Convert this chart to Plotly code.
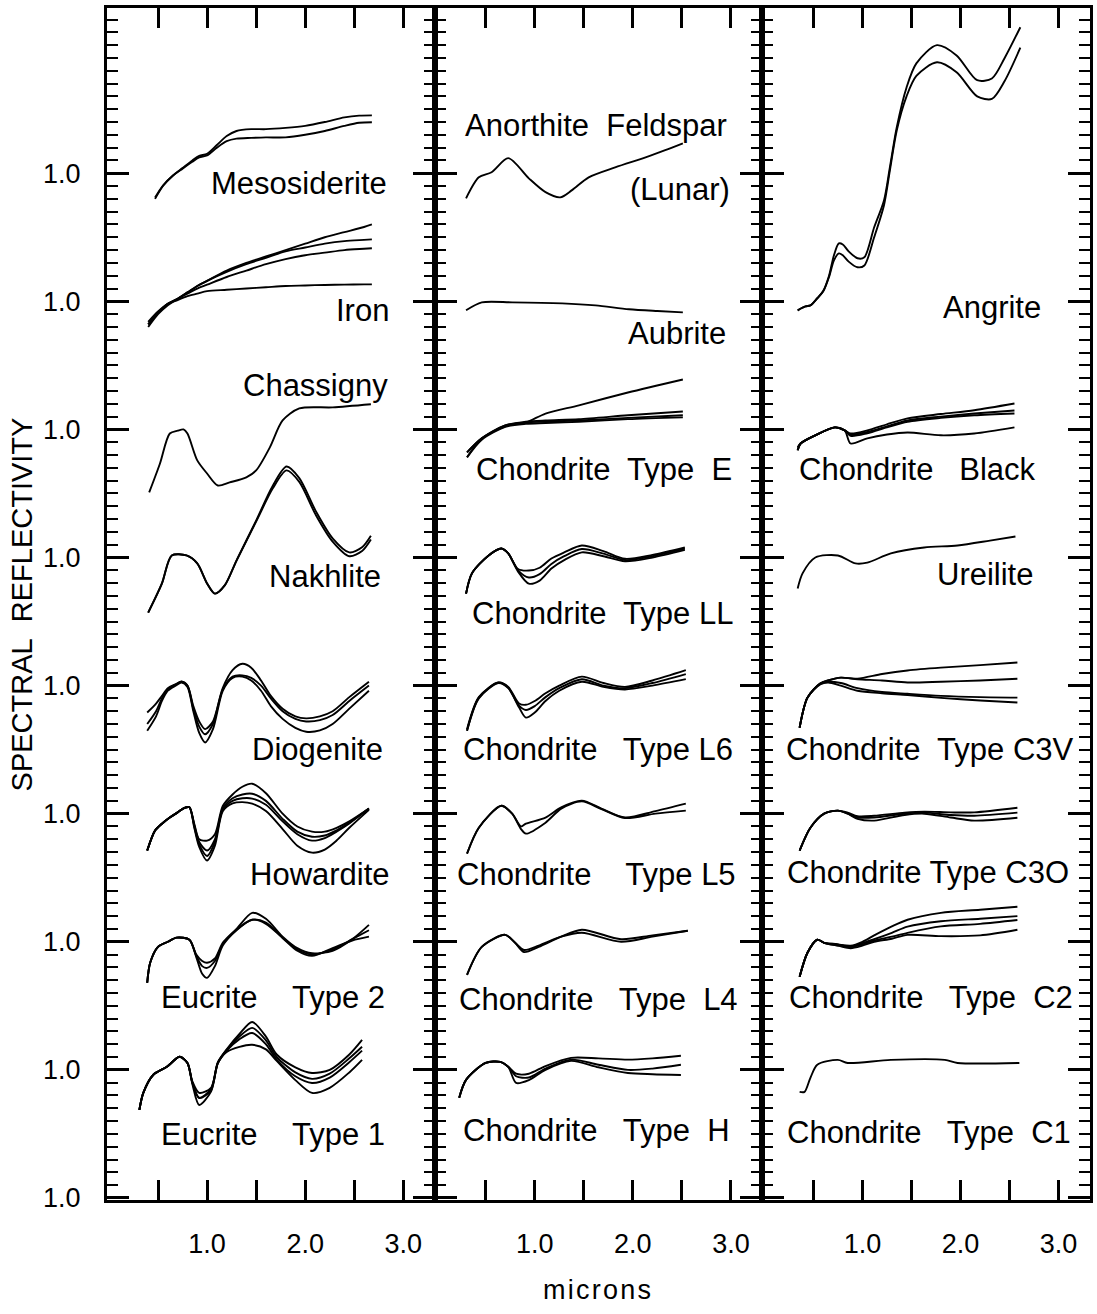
import plotly.graph_objects as go

# ---------------- data (relative reflectance vs wavelength in microns) ----------------
# Panel 1
MESO_WL = [0.47,0.55,0.65,0.75,0.85,0.92,1.00,1.10,1.20,1.30,1.45,1.60,1.80,2.00,2.20,2.40,2.55,2.68]
MESO_A = [0.900,0.950,0.990,1.020,1.050,1.068,1.076,1.110,1.145,1.165,1.172,1.172,1.177,1.185,1.200,1.218,1.225,1.226]
MESO_B = [0.905,0.952,0.990,1.018,1.045,1.062,1.070,1.100,1.125,1.135,1.138,1.140,1.140,1.150,1.165,1.185,1.197,1.199]

IRON_WL = [0.40,0.50,0.60,0.70,0.80,0.90,1.00,1.20,1.40,1.60,1.80,2.00,2.20,2.40,2.60,2.68]
IRON_A = [0.900,0.950,0.985,1.010,1.035,1.060,1.080,1.120,1.150,1.175,1.200,1.225,1.250,1.270,1.290,1.300]
IRON_B = [0.910,0.955,0.990,1.010,1.035,1.060,1.080,1.115,1.145,1.170,1.195,1.210,1.225,1.235,1.240,1.242]
IRON_C = [0.910,0.955,0.990,1.010,1.030,1.050,1.065,1.095,1.120,1.145,1.165,1.180,1.190,1.200,1.205,1.207]
IRON_D = [0.920,0.960,0.990,1.005,1.020,1.030,1.040,1.045,1.050,1.055,1.060,1.062,1.064,1.065,1.066,1.066]

CHAS_WL = [0.41,0.52,0.62,0.70,0.76,0.80,0.90,1.00,1.11,1.23,1.40,1.50,1.64,1.77,1.94,2.28,2.67]
CHAS = [0.754,0.867,0.984,0.995,1.000,0.984,0.879,0.828,0.781,0.793,0.813,0.840,0.930,1.035,1.082,1.086,1.098]

NAKH_WL = [0.40,0.54,0.64,0.79,0.90,1.00,1.08,1.18,1.30,1.50,1.67,1.81,1.94,2.11,2.28,2.45,2.58,2.67]
NAKH_A = [0.785,0.899,1.008,1.008,0.977,0.899,0.859,0.891,0.988,1.144,1.280,1.355,1.310,1.180,1.075,1.020,1.040,1.085]
NAKH_B = [0.785,0.899,1.008,1.008,0.977,0.899,0.859,0.891,0.988,1.140,1.270,1.340,1.295,1.165,1.062,1.005,1.025,1.070]

DIOG_WL = [0.39,0.48,0.54,0.60,0.68,0.74,0.80,0.86,0.92,0.98,1.06,1.16,1.26,1.36,1.45,1.55,1.65,1.77,1.90,2.01,2.15,2.28,2.45,2.65]
DIOG_A = [0.895,0.930,0.960,0.990,1.005,1.016,1.000,0.920,0.860,0.830,0.860,0.990,1.060,1.085,1.070,1.020,0.960,0.910,0.880,0.872,0.880,0.900,0.955,1.015]
DIOG_B = [0.850,0.900,0.950,0.985,1.005,1.015,1.000,0.910,0.840,0.810,0.850,0.985,1.035,1.040,1.030,1.000,0.950,0.900,0.870,0.860,0.865,0.885,0.940,1.000]
DIOG_C = [0.824,0.880,0.940,0.980,1.000,1.012,0.995,0.900,0.815,0.778,0.830,0.980,1.030,1.035,1.020,0.980,0.920,0.870,0.835,0.820,0.825,0.850,0.910,0.980]

HOW_WL = [0.39,0.47,0.54,0.62,0.70,0.77,0.82,0.87,0.92,1.00,1.08,1.16,1.26,1.36,1.46,1.60,1.77,1.92,2.07,2.20,2.32,2.45,2.65]
HOW_A = [0.856,0.934,0.961,0.985,1.005,1.023,1.025,0.960,0.900,0.895,0.920,1.030,1.075,1.105,1.117,1.080,1.000,0.950,0.930,0.930,0.945,0.970,1.020]
HOW_B = [0.856,0.934,0.961,0.985,1.005,1.023,1.025,0.955,0.890,0.856,0.900,1.020,1.060,1.075,1.078,1.050,0.980,0.930,0.910,0.915,0.935,0.965,1.020]
HOW_C = [0.856,0.934,0.961,0.985,1.005,1.023,1.025,0.950,0.880,0.835,0.890,1.015,1.050,1.060,1.059,1.035,0.970,0.920,0.895,0.905,0.930,0.962,1.020]
HOW_D = [0.856,0.934,0.961,0.985,1.005,1.023,1.025,0.945,0.870,0.817,0.875,1.010,1.040,1.045,1.039,1.010,0.940,0.875,0.848,0.860,0.895,0.945,1.015]

EUC2_WL = [0.39,0.42,0.50,0.60,0.69,0.82,0.89,0.95,1.00,1.08,1.16,1.30,1.46,1.60,1.77,1.92,2.07,2.28,2.48,2.65]
EUC2_A = [0.840,0.918,0.980,1.000,1.016,1.008,0.950,0.925,0.918,0.935,0.996,1.050,1.113,1.090,1.020,0.975,0.955,0.965,1.010,1.066]
EUC2_B = [0.840,0.918,0.980,1.000,1.016,1.008,0.945,0.905,0.898,0.925,0.990,1.047,1.086,1.075,1.016,0.970,0.950,0.970,1.010,1.045]
EUC2_C = [0.840,0.918,0.980,1.000,1.016,1.008,0.940,0.875,0.859,0.905,0.985,1.045,1.086,1.070,1.015,0.965,0.945,0.975,1.005,1.020]

EUC1_WL = [0.31,0.35,0.45,0.59,0.72,0.80,0.85,0.92,1.04,1.11,1.20,1.33,1.46,1.60,1.71,1.90,2.07,2.25,2.45,2.58]
EUC1_A = [0.844,0.910,0.980,1.012,1.051,1.027,0.955,0.910,0.930,1.030,1.080,1.140,1.187,1.130,1.060,1.010,0.988,1.000,1.060,1.117]
EUC1_B = [0.844,0.910,0.980,1.012,1.051,1.027,0.950,0.891,0.925,1.027,1.078,1.130,1.164,1.115,1.050,0.990,0.965,0.985,1.045,1.090]
EUC1_C = [0.844,0.910,0.980,1.012,1.051,1.027,0.945,0.863,0.915,1.025,1.075,1.120,1.144,1.100,1.040,0.975,0.949,0.970,1.030,1.075]
EUC1_D = [0.844,0.910,0.980,1.012,1.051,1.027,0.950,0.890,0.920,1.027,1.070,1.090,1.098,1.080,1.035,0.960,0.910,0.930,0.990,1.039]

# Panel 2
ANOR_WL = [0.30,0.43,0.56,0.73,0.94,1.11,1.26,1.38,1.55,1.82,2.13,2.33,2.51]
ANOR = [0.902,0.984,1.004,1.059,0.980,0.926,0.906,0.934,0.984,1.023,1.062,1.090,1.117]

AUB_WL = [0.30,0.46,0.77,1.28,1.62,1.96,2.25,2.51]
AUB = [0.965,0.996,0.996,0.992,0.984,0.969,0.962,0.957]

ENS_WL = [0.31,0.46,0.70,0.91,1.11,1.45,1.95,2.51]
ENS_A = [0.891,0.965,1.016,1.027,1.062,1.094,1.144,1.195]
ENS_B = [0.910,0.965,1.016,1.030,1.035,1.040,1.055,1.070]
ENS_C = [0.910,0.965,1.012,1.027,1.030,1.035,1.045,1.055]
ENS_D = [0.891,0.960,1.010,1.022,1.025,1.030,1.040,1.047]

LL_WL = [0.30,0.36,0.53,0.66,0.73,0.83,0.94,1.05,1.17,1.30,1.48,1.70,1.92,2.20,2.53]
LL_A = [0.859,0.938,1.008,1.035,1.016,0.955,0.949,0.960,0.996,1.020,1.047,1.025,0.995,1.010,1.039]
LL_B = [0.859,0.938,1.008,1.035,1.016,0.950,0.922,0.935,0.975,1.005,1.033,1.015,0.990,1.005,1.035]
LL_C = [0.859,0.938,1.008,1.035,1.016,0.945,0.898,0.910,0.957,0.990,1.020,1.005,0.985,1.000,1.030]

L6_WL = [0.31,0.43,0.63,0.73,0.84,0.91,1.00,1.11,1.25,1.48,1.70,1.92,2.20,2.54]
L6_A = [0.830,0.955,1.012,0.995,0.930,0.925,0.940,0.970,1.000,1.035,1.010,0.995,1.020,1.060]
L6_B = [0.824,0.953,1.012,0.992,0.922,0.905,0.920,0.955,0.990,1.025,1.000,0.990,1.010,1.045]
L6_C = [0.824,0.950,1.010,0.990,0.915,0.875,0.895,0.940,0.980,1.015,0.995,0.985,1.000,1.025]

L5_WL = [0.31,0.43,0.66,0.77,0.86,0.91,1.11,1.27,1.48,1.68,1.92,2.23,2.54]
L5_A = [0.844,0.945,1.031,1.000,0.950,0.961,0.985,1.025,1.051,1.020,0.985,1.010,1.039]
L5_B = [0.844,0.945,1.031,1.000,0.940,0.922,0.965,1.020,1.048,1.018,0.983,1.000,1.012]

L4_WL = [0.31,0.46,0.70,0.80,0.89,1.04,1.27,1.48,1.88,2.20,2.56]
L4_A = [0.871,0.980,1.027,0.996,0.960,0.980,1.020,1.047,1.010,1.025,1.043]
L4_B = [0.871,0.980,1.027,0.996,0.968,0.985,1.020,1.035,1.000,1.020,1.043]

H_WL = [0.23,0.30,0.50,0.65,0.73,0.81,0.94,1.11,1.37,1.65,1.95,2.20,2.49]
H_A = [0.891,0.961,1.027,1.031,1.012,0.985,0.985,1.015,1.047,1.045,1.040,1.045,1.055]
H_B = [0.891,0.961,1.027,1.031,1.012,0.975,0.970,1.005,1.040,1.020,1.000,1.005,1.020]
H_C = [0.891,0.961,1.027,1.031,1.012,0.949,0.960,1.000,1.035,1.010,0.988,0.983,0.980]

# Panel 3
ANG_WL = [0.34,0.42,0.47,0.54,0.60,0.66,0.71,0.76,0.80,0.86,0.95,1.02,1.12,1.22,1.28,1.35,1.45,1.55,1.76,1.96,2.17,2.32,2.45,2.61]
ANG_A = [0.965,0.980,0.984,1.012,1.040,1.100,1.180,1.226,1.222,1.195,1.168,1.172,1.289,1.394,1.523,1.679,1.835,1.929,2.000,1.960,1.863,1.870,1.950,2.070]
ANG_B = [0.965,0.980,0.984,1.012,1.038,1.095,1.160,1.187,1.180,1.155,1.133,1.140,1.250,1.375,1.510,1.667,1.800,1.880,1.933,1.894,1.800,1.790,1.860,1.990]

BLK_WL = [0.34,0.37,0.52,0.72,0.82,0.88,1.05,1.25,1.46,1.80,2.14,2.55]
BLK_A = [0.930,0.945,0.977,1.008,0.996,0.984,0.996,1.020,1.043,1.060,1.075,1.101]
BLK_B = [0.920,0.945,0.977,1.008,0.996,0.980,0.990,1.012,1.035,1.050,1.062,1.074]
BLK_C = [0.920,0.945,0.977,1.008,0.996,0.975,0.985,1.008,1.030,1.045,1.055,1.062]
BLK_D = [0.918,0.945,0.977,1.008,0.996,0.945,0.965,0.980,0.988,0.977,0.984,1.008]

UREI_WL = [0.34,0.39,0.52,0.75,0.93,1.05,1.29,1.63,1.97,2.30,2.56]
UREI = [0.879,0.938,1.000,1.008,0.977,0.980,1.016,1.039,1.047,1.066,1.082]

C3V_WL = [0.36,0.44,0.57,0.65,0.78,0.95,1.20,1.46,1.80,2.20,2.58]
C3V_A = [0.836,0.953,1.008,1.020,1.031,1.027,1.045,1.059,1.070,1.080,1.090]
C3V_B = [0.836,0.953,1.008,1.020,1.031,1.025,1.020,1.012,1.015,1.020,1.027]
C3V_C = [0.836,0.953,1.008,1.015,1.010,0.990,0.975,0.968,0.960,0.955,0.953]
C3V_D = [0.836,0.953,1.005,1.012,1.000,0.980,0.970,0.963,0.952,0.942,0.934]

C3O_WL = [0.36,0.47,0.61,0.75,0.85,0.95,1.12,1.43,1.63,1.90,2.14,2.58]
C3O_A = [0.856,0.945,1.000,1.012,1.004,0.990,0.992,1.004,1.008,1.005,1.005,1.023]
C3O_B = [0.856,0.945,1.000,1.012,1.000,0.985,0.985,1.000,1.004,0.995,0.992,1.004]
C3O_C = [0.856,0.945,1.000,1.012,1.000,0.980,0.973,0.995,1.000,0.985,0.973,0.984]

C2_WL = [0.36,0.44,0.54,0.61,0.75,0.88,1.00,1.12,1.30,1.46,1.80,2.20,2.58]
C2_A = [0.863,0.957,1.008,0.996,0.990,0.985,1.000,1.025,1.060,1.086,1.113,1.125,1.137]
C2_B = [0.863,0.957,1.008,0.996,0.990,0.980,0.995,1.010,1.035,1.059,1.080,1.090,1.100]
C2_C = [0.863,0.957,1.008,0.996,0.985,0.980,0.990,1.005,1.020,1.035,1.060,1.070,1.085]
C2_D = [0.863,0.957,1.008,0.996,0.985,0.975,0.985,1.000,1.012,1.027,1.022,1.025,1.047]

C1_WL = [0.36,0.41,0.47,0.54,0.75,0.85,1.29,1.84,1.97,2.60]
C1 = [0.914,0.914,0.969,1.020,1.039,1.027,1.039,1.039,1.027,1.027]

# axis ticks
ROW_STEP = 0.5
Y_TICK_VALS = [1.0 + ROW_STEP * k for k in range(9)]
Y_TICK_TEXT = ["1.0"] * 9
X_TICK_VALS = [0.5, 1.0, 1.5, 2.0, 2.5, 3.0]
X_TICK_TEXT = ["", "1.0", "", "2.0", "", "3.0"]

# (panel, row offset index, wavelengths, curves)
GROUPS = [
    (1, 8, MESO_WL, [MESO_A, MESO_B]),
    (1, 7, IRON_WL, [IRON_A, IRON_B, IRON_C, IRON_D]),
    (1, 6, CHAS_WL, [CHAS]),
    (1, 5, NAKH_WL, [NAKH_A, NAKH_B]),
    (1, 4, DIOG_WL, [DIOG_A, DIOG_B, DIOG_C]),
    (1, 3, HOW_WL, [HOW_A, HOW_B, HOW_C, HOW_D]),
    (1, 2, EUC2_WL, [EUC2_A, EUC2_B, EUC2_C]),
    (1, 1, EUC1_WL, [EUC1_A, EUC1_B, EUC1_C, EUC1_D]),
    (2, 8, ANOR_WL, [ANOR]),
    (2, 7, AUB_WL, [AUB]),
    (2, 6, ENS_WL, [ENS_A, ENS_B, ENS_C, ENS_D]),
    (2, 5, LL_WL, [LL_A, LL_B, LL_C]),
    (2, 4, L6_WL, [L6_A, L6_B, L6_C]),
    (2, 3, L5_WL, [L5_A, L5_B]),
    (2, 2, L4_WL, [L4_A, L4_B]),
    (2, 1, H_WL, [H_A, H_B, H_C]),
    (3, 7, ANG_WL, [ANG_A, ANG_B]),
    (3, 6, BLK_WL, [BLK_A, BLK_B, BLK_C, BLK_D]),
    (3, 5, UREI_WL, [UREI]),
    (3, 4, C3V_WL, [C3V_A, C3V_B, C3V_C, C3V_D]),
    (3, 3, C3O_WL, [C3O_A, C3O_B, C3O_C]),
    (3, 2, C2_WL, [C2_A, C2_B, C2_C, C2_D]),
    (3, 1, C1_WL, [C1]),
]

NB = "\u00a0"
LABELS = [
    (1, "Mesosiderite", 1.94, 4.958),
    (1, "Iron", 2.58, 4.466),
    (1, "Chassigny", 2.11, 4.173),
    (1, "Nakhlite", 2.20, 3.424),
    (1, "Diogenite", 2.13, 2.749),
    (1, "Howardite", 2.15, 2.261),
    (1, "Eucrite" + NB * 4 + "Type 2", 1.67, 1.781),
    (1, "Eucrite" + NB * 4 + "Type 1", 1.67, 1.246),
    (2, "Anorthite" + NB + " Feldspar", 1.62, 5.188),
    (2, "(Lunar)", 2.48, 4.938),
    (2, "Aubrite", 2.45, 4.376),
    (2, "Chondrite" + NB + " Type" + NB + " E", 1.71, 3.842),
    (2, "Chondrite" + NB + " Type LL", 1.69, 3.283),
    (2, "Chondrite" + NB * 2 + " Type L6", 1.65, 2.749),
    (2, "Chondrite" + NB * 3 + " Type L5", 1.63, 2.261),
    (2, "Chondrite" + NB * 2 + " Type" + NB + " L4", 1.65, 1.773),
    (2, "Chondrite" + NB * 2 + " Type" + NB + " H", 1.63, 1.265),
    (3, "Angrite", 2.32, 4.474),
    (3, "Chondrite" + NB * 2 + " Black", 1.56, 3.842),
    (3, "Ureilite", 2.25, 3.432),
    (3, "Chondrite" + NB + " Type C3V", 1.69, 2.749),
    (3, "Chondrite Type C3O", 1.67, 2.269),
    (3, "Chondrite" + NB * 2 + " Type" + NB + " C2", 1.70, 1.781),
    (3, "Chondrite" + NB * 2 + " Type" + NB + " C1", 1.68, 1.254),
]

FONT = "Liberation Sans, Arial, sans-serif"
HS = "\u200a"

fig = go.Figure()

def ax_suffix(p):
    return "" if p == 1 else str(p)

for panel, row, wl, curves in GROUPS:
    for c in curves:
        fig.add_trace(go.Scatter(
            x=wl, y=[v + ROW_STEP * row for v in c], mode="lines",
            line=dict(color="black", width=1.9, shape="spline", smoothing=0.8),
            xaxis="x" + ax_suffix(panel), yaxis="y" + ax_suffix(panel),
            showlegend=False, hoverinfo="skip"))

annotations = []
for panel, text, x, y in LABELS:
    annotations.append(dict(text=text, x=x, y=y, xref="x" + ax_suffix(panel),
                            yref="y" + ax_suffix(panel), showarrow=False,
                            xanchor="center", yanchor="middle",
                            font=dict(family=FONT, size=31, color="black")))
annotations.append(dict(text="SPECTRAL" + NB + " REFLECTIVITY", x=-0.086, y=0.50,
                        xref="paper", yref="paper", textangle=-90, showarrow=False,
                        xanchor="center", yanchor="middle",
                        font=dict(family=FONT, size=29, color="black")))
annotations.append(dict(text=HS.join("microns"), x=0.498, y=-0.0755, xref="paper", yref="paper",
                        showarrow=False, xanchor="center", yanchor="middle",
                        font=dict(family=FONT, size=27, color="black")))

X_RANGE = [-0.02, 3.32]
Y_RANGE = [0.992, 5.645]

def xaxis(domain, anchor):
    return dict(domain=domain, anchor=anchor, range=X_RANGE, tickmode="array",
                tickvals=X_TICK_VALS, ticktext=X_TICK_TEXT, ticks="inside", ticklen=20,
                tickwidth=2.5, tickcolor="black", showline=True, linewidth=3,
                linecolor="black", mirror="ticks", showgrid=False, zeroline=False,
                tickfont=dict(family=FONT, size=27, color="black"),
                ticklabelstandoff=18, fixedrange=True)

def yaxis(anchor, labels):
    return dict(domain=[0, 1], anchor=anchor, range=Y_RANGE, tickmode="array",
                tickvals=Y_TICK_VALS, ticktext=Y_TICK_TEXT, ticks="inside", ticklen=22,
                tickwidth=2.5, tickcolor="black", showline=True, linewidth=3,
                linecolor="black", mirror="ticks", showgrid=False, zeroline=False,
                showticklabels=labels,
                tickfont=dict(family=FONT, size=27, color="black"),
                ticklabelstandoff=18, fixedrange=True,
                minor=dict(ticks="inside", ticklen=11, tickwidth=2, tickcolor="black",
                           dtick=0.05, tick0=1.0, showgrid=False))

fig.update_layout(
    width=1097, height=1314,
    margin=dict(l=107, r=4, t=8, b=114),
    paper_bgcolor="white", plot_bgcolor="white",
    xaxis=xaxis([0, 1 / 3], "y"),
    xaxis2=xaxis([1 / 3, 2 / 3], "y2"),
    xaxis3=xaxis([2 / 3, 1], "y3"),
    yaxis=yaxis("x", True),
    yaxis2=yaxis("x2", False),
    yaxis3=yaxis("x3", False),
    annotations=annotations,
    showlegend=False,
)

fig.write_html("out.html")
